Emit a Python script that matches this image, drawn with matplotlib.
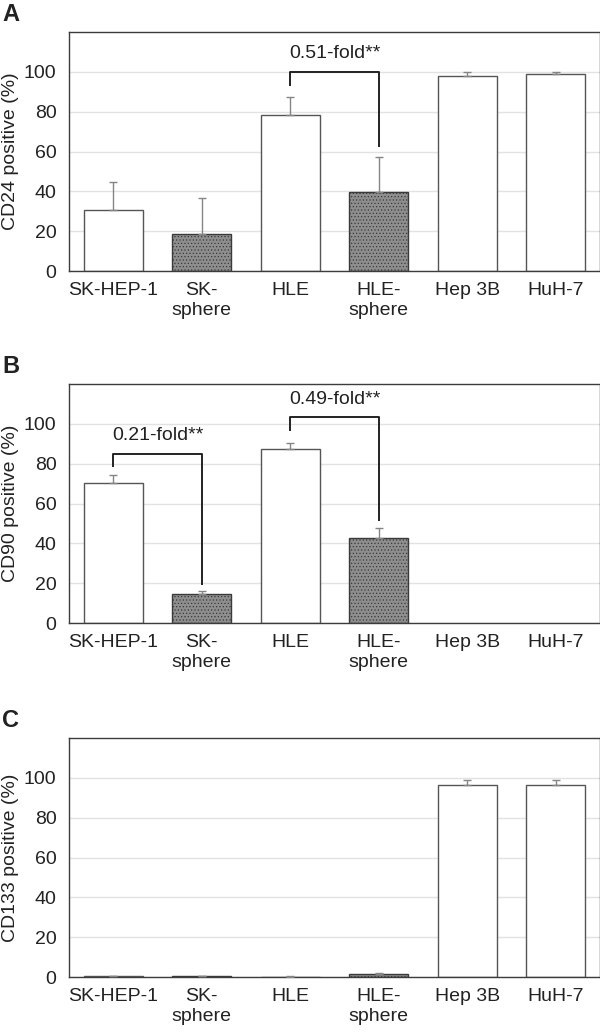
import numpy as np
import matplotlib
matplotlib.use("Agg")
import matplotlib.pyplot as plt

plt.rcParams['font.family'] = ['Liberation Sans', 'DejaVu Sans']
plt.rcParams['hatch.linewidth'] = 0.5
plt.rcParams['hatch.color'] = '#7a7a7a'

# data
categories = ["SK-HEP-1", "SK-\nsphere", "HLE", "HLE-\nsphere", "Hep 3B", "HuH-7"]
is_sphere = [False, True, False, True, False, False]

cd24 = [30.5, 18.5, 78.2, 39.5, 97.7, 99.0]
cd24_err = [14.0, 18.0, 9.0, 17.5, 2.2, 0.8]

cd90 = [70.4, 14.7, 87.6, 42.8, 0, 0]
cd90_err = [4.0, 1.5, 3.0, 4.7, 0, 0]

cd133 = [0.3, 0.4, 0.2, 1.7, 96.2, 96.6]
cd133_err = [0.3, 0.3, 0.2, 0.2, 2.5, 2.2]

ylabels = ["CD24 positive (%)", "CD90 positive (%)", "CD133 positive (%)"]
panel_letters = ["A", "B", "C"]

# brackets: (left bar, right bar, top level, left drop, right drop, label, text level)
brackets = [
    [(2, 3, 100.0, 93.0, 62.5, "0.51-fold**", 109.0)],
    [(0, 1, 85.0, 78.3, 19.2, "0.21-fold**", 94.0),
     (2, 3, 103.2, 96.3, 51.0, "0.49-fold**", 112.0)],
    [],
]

values = [cd24, cd90, cd133]
errors = [cd24_err, cd90_err, cd133_err]

W, H = 600, 1033
fig = plt.figure(figsize=(W / 100, H / 100), dpi=100)

tops = [32, 384, 738]
ax_h = 239
x = np.arange(len(categories))

for k in range(3):
    ax = fig.add_axes([69 / W, 1 - (tops[k] + ax_h) / H, 531 / W, ax_h / H])
    for i in x:
        v = values[k][i]
        if v <= 0:
            continue
        if is_sphere[i]:
            ax.bar(i, v, width=0.67, color='#8e8e8e', edgecolor='#3a3a3a',
                   linewidth=1.0, hatch='.....', zorder=2)
        else:
            ax.bar(i, v, width=0.67, color='white', edgecolor='#555555',
                   linewidth=1.0, zorder=2)
        ax.errorbar(i, v, yerr=[[0], [errors[k][i]]], fmt='none',
                    ecolor='#858585', elinewidth=1.0, capsize=3, capthick=1.0,
                    zorder=3)

    for (a, b, ytop, yl, yr, lab, ty) in brackets[k]:
        ax.plot([a, a, b, b], [yl, ytop, ytop, yr], color='#222222', lw=1.4,
                zorder=4, solid_capstyle='butt')
        ax.text((a + b) / 2, ty, lab, ha='center', va='center', fontsize=14,
                color='#222222')

    ax.set_xlim(-0.5, 5.5)
    ax.set_ylim(0, 120)
    ax.set_yticks([0, 20, 40, 60, 80, 100])
    ax.set_xticks(x)
    ax.set_xticklabels(categories, fontsize=14, color='#222222')
    ax.tick_params(axis='y', length=0, pad=9, labelsize=14, labelcolor='#222222')
    ax.tick_params(axis='x', length=0, pad=8)
    ax.yaxis.grid(True, color='#e2e2e2', lw=1.0, zorder=0)
    ax.set_axisbelow(True)
    for s in ax.spines.values():
        s.set_color('#3c3c3c')
        s.set_linewidth(1.0)
    ax.set_ylabel(ylabels[k], fontsize=14, color='#222222')
    ax.yaxis.set_label_coords(-0.094, 0.5)

    fig.text(2 / W, 1 - (tops[k] - 29) / H, panel_letters[k], fontsize=17,
             fontweight='bold', ha='left', va='top', color='#222222')

fig.savefig("out.png", dpi=100)
